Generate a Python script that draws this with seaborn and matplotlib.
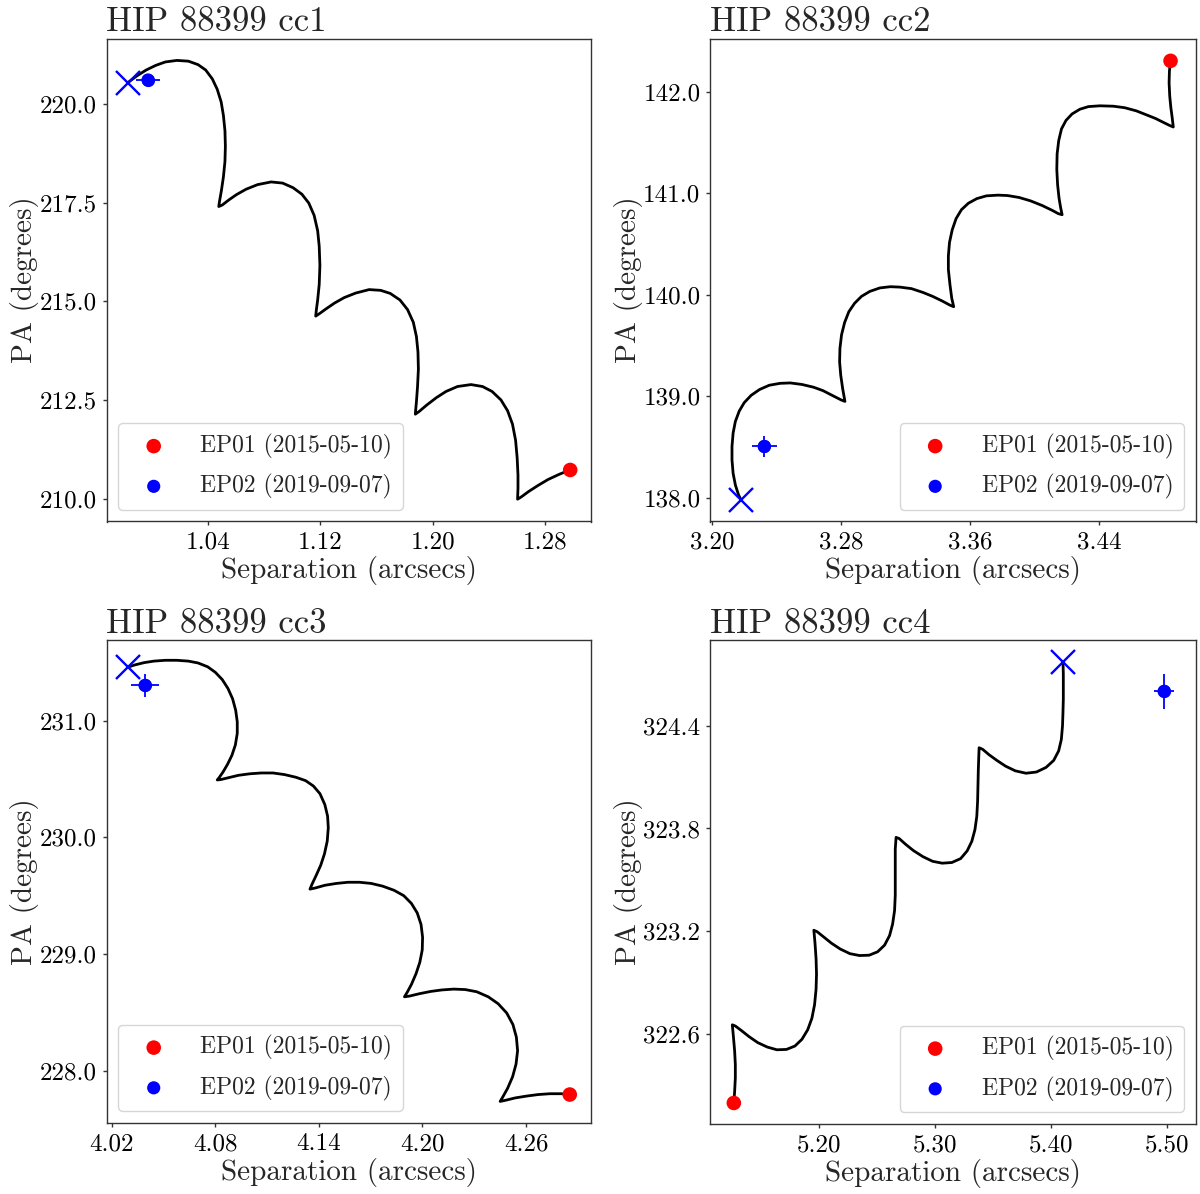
import matplotlib
matplotlib.use("Agg")
import matplotlib.pyplot as plt
import seaborn as sns
import pandas as pd
from matplotlib.ticker import FormatStrFormatter

# ---------------- data ----------------
titles = ["HIP 88399 cc1", "HIP 88399 cc2", "HIP 88399 cc3", "HIP 88399 cc4"]
ep_labels = ["EP01 (2015-05-10)", "EP02 (2019-09-07)"]

sep_cc1 = [0.9832, 0.9894, 0.9963, 1.0031, 1.0099, 1.0181, 1.0263, 1.0332, 1.0386, 1.0433,
           1.0468, 1.0496, 1.0512, 1.0523, 1.0526, 1.0523, 1.0512, 1.0498, 1.0485, 1.0479,
           1.0504, 1.0550, 1.0605, 1.0673, 1.0755, 1.0851, 1.0933, 1.1007, 1.1070, 1.1119,
           1.1157, 1.1182, 1.1193, 1.1198, 1.1193, 1.1182, 1.1173, 1.1168,
           1.1193, 1.1242, 1.1302, 1.1370, 1.1452, 1.1548, 1.1630, 1.1698, 1.1767, 1.1821,
           1.1862, 1.1884, 1.1895, 1.1898, 1.1892, 1.1884, 1.1879, 1.1876,
           1.1903, 1.1958, 1.2026, 1.2094, 1.2176, 1.2272, 1.2354, 1.2422, 1.2485, 1.2532,
           1.2567, 1.2589, 1.2600, 1.2606, 1.2606, 1.2603,
           1.2630, 1.2682, 1.2750, 1.2819, 1.2901, 1.2977]
pa_cc1 = [220.536, 220.701, 220.857, 220.974, 221.061, 221.100, 221.081, 220.993, 220.857, 220.633,
          220.370, 220.049, 219.708, 219.318, 218.929, 218.539, 218.150, 217.809, 217.546, 217.400,
          217.439, 217.566, 217.702, 217.838, 217.955, 218.023, 217.994, 217.877, 217.712, 217.488,
          217.176, 216.787, 216.397, 215.910, 215.424, 215.034, 214.791, 214.625,
          214.684, 214.810, 214.956, 215.093, 215.209, 215.297, 215.278, 215.200, 215.034, 214.791,
          214.469, 214.109, 213.720, 213.281, 212.843, 212.454, 212.259, 212.142,
          212.210, 212.376, 212.561, 212.717, 212.843, 212.892, 212.843, 212.717, 212.503, 212.230,
          211.889, 211.480, 211.042, 210.604, 210.263, 209.990,
          210.049, 210.185, 210.341, 210.487, 210.623, 210.730]

sep_cc2 = [3.4844, 3.4837, 3.4835, 3.4839, 3.4846, 3.4854, 3.4861,
           3.4839, 3.4799, 3.4751, 3.4691, 3.4632, 3.4560, 3.4489, 3.4405, 3.4334, 3.4281,
           3.4233, 3.4195, 3.4167, 3.4150, 3.4140, 3.4138, 3.4143, 3.4152, 3.4162, 3.4171,
           3.4147, 3.4107, 3.4047, 3.3976, 3.3904, 3.3832, 3.3773, 3.3701, 3.3642, 3.3589,
           3.3546, 3.3513, 3.3489, 3.3472, 3.3465, 3.3465, 3.3475, 3.3486, 3.3498,
           3.3475, 3.3427, 3.3367, 3.3308, 3.3236, 3.3164, 3.3105, 3.3040, 3.2978, 3.2926,
           3.2883, 3.2847, 3.2821, 3.2802, 3.2792, 3.2790, 3.2797, 3.2809, 3.2823,
           3.2799, 3.2747, 3.2687, 3.2628, 3.2556, 3.2484, 3.2420, 3.2353, 3.2293, 3.2241,
           3.2198, 3.2167, 3.2143, 3.2129, 3.2122, 3.2122, 3.2129, 3.2143, 3.2162, 3.2177]
pa_cc2 = [142.303, 142.201, 142.087, 141.955, 141.841, 141.746, 141.651,
          141.666, 141.697, 141.735, 141.773, 141.810, 141.841, 141.856, 141.860, 141.852, 141.826,
          141.780, 141.716, 141.632, 141.518, 141.386, 141.234, 141.082, 140.950, 140.855, 140.787,
          140.798, 140.832, 140.878, 140.923, 140.957, 140.976, 140.980, 140.973, 140.946, 140.900,
          140.836, 140.749, 140.639, 140.514, 140.381, 140.248, 140.097, 139.964, 139.881,
          139.896, 139.937, 139.983, 140.021, 140.059, 140.074, 140.078, 140.066, 140.032, 139.983,
          139.915, 139.831, 139.725, 139.604, 139.471, 139.338, 139.206, 139.073, 138.948,
          138.963, 139.005, 139.054, 139.088, 139.115, 139.130, 139.126, 139.107, 139.065, 139.008,
          138.936, 138.853, 138.751, 138.637, 138.504, 138.372, 138.239, 138.125, 138.030, 137.981]

sep_cc3 = [4.0293, 4.0334, 4.0389, 4.0445, 4.0512, 4.0578, 4.0645, 4.0701, 4.0757, 4.0801,
           4.0841, 4.0874, 4.0901, 4.0919, 4.0928, 4.0928, 4.0917, 4.0897, 4.0872, 4.0846,
           4.0823, 4.0812,
           4.0834, 4.0879, 4.0935, 4.1001, 4.1068, 4.1135, 4.1202, 4.1268, 4.1324, 4.1369,
           4.1407, 4.1435, 4.1451, 4.1455, 4.1449, 4.1433, 4.1411, 4.1384, 4.1362, 4.1349,
           4.1380, 4.1435, 4.1502, 4.1569, 4.1636, 4.1703, 4.1769, 4.1836, 4.1892, 4.1936,
           4.1970, 4.1992, 4.2001, 4.1999, 4.1985, 4.1963, 4.1936, 4.1912, 4.1896,
           4.1925, 4.1981, 4.2048, 4.2114, 4.2181, 4.2248, 4.2315, 4.2381, 4.2439, 4.2488,
           4.2524, 4.2544, 4.2551, 4.2542, 4.2522, 4.2493, 4.2466, 4.2450,
           4.2482, 4.2537, 4.2604, 4.2671, 4.2738, 4.2804, 4.2853]
pa_cc3 = [231.458, 231.478, 231.498, 231.511, 231.518, 231.518, 231.511, 231.495, 231.462, 231.415,
          231.353, 231.277, 231.188, 231.089, 230.990, 230.891, 230.792, 230.703, 230.627, 230.561,
          230.512, 230.492,
          230.496, 230.512, 230.532, 230.545, 230.552, 230.552, 230.538, 230.515, 230.486, 230.440,
          230.374, 230.281, 230.182, 230.083, 229.968, 229.859, 229.760, 229.671, 229.602, 229.556,
          229.566, 229.589, 229.605, 229.615, 229.615, 229.605, 229.582, 229.546, 229.500, 229.434,
          229.352, 229.253, 229.144, 229.035, 228.929, 228.831, 228.738, 228.672, 228.633,
          228.639, 228.659, 228.679, 228.692, 228.699, 228.695, 228.676, 228.633, 228.573, 228.494,
          228.395, 228.287, 228.171, 228.056, 227.947, 227.848, 227.776, 227.736,
          227.746, 227.766, 227.782, 227.795, 227.802, 227.802, 227.795]

sep_cc4 = [5.1264, 5.1271, 5.1277, 5.1277, 5.1271, 5.1261, 5.1251,
           5.1277, 5.1330, 5.1397, 5.1470, 5.1552, 5.1635, 5.1718, 5.1791, 5.1851, 5.1901,
           5.1937, 5.1960, 5.1973, 5.1977, 5.1973, 5.1964, 5.1954,
           5.1983, 5.2040, 5.2106, 5.2182, 5.2265, 5.2348, 5.2431, 5.2504, 5.2564, 5.2607,
           5.2633, 5.2650, 5.2656, 5.2656, 5.2656, 5.2656, 5.2663,
           5.2690, 5.2746, 5.2812, 5.2895, 5.2978, 5.3061, 5.3144, 5.3220, 5.3276, 5.3316,
           5.3343, 5.3359, 5.3366, 5.3369, 5.3372, 5.3376, 5.3379,
           5.3409, 5.3465, 5.3532, 5.3608, 5.3691, 5.3783, 5.3873, 5.3956, 5.4022, 5.4065,
           5.4088, 5.4098, 5.4102, 5.4105, 5.4105, 5.4105, 5.4102]
pa_cc4 = [322.195, 322.263, 322.342, 322.420, 322.499, 322.578, 322.652,
          322.645, 322.618, 322.582, 322.548, 322.522, 322.506, 322.508, 322.528, 322.567, 322.623,
          322.690, 322.769, 322.859, 322.949, 323.039, 323.129, 323.205,
          323.196, 323.165, 323.129, 323.095, 323.068, 323.057, 323.059, 323.079, 323.118, 323.174,
          323.241, 323.320, 323.410, 323.500, 323.590, 323.680, 323.748,
          323.741, 323.707, 323.671, 323.635, 323.608, 323.597, 323.601, 323.624, 323.669, 323.725,
          323.793, 323.871, 323.961, 324.051, 324.141, 324.220, 324.272,
          324.263, 324.231, 324.198, 324.164, 324.137, 324.123, 324.130, 324.157, 324.198, 324.254,
          324.321, 324.400, 324.479, 324.557, 324.636, 324.704, 324.776]

# epoch 1 (red) measured positions
ep1_sep = [1.2977, 3.4844, 4.2853, 5.1264]
ep1_pa = [210.730, 142.303, 227.795, 322.195]
# epoch 2 (blue) measured positions with errors
ep2_sep = [0.9976, 3.2322, 4.0394, 5.4974]
ep2_pa = [220.604, 138.504, 231.303, 324.602]
ep2_sep_err = [0.0085, 0.0078, 0.0080, 0.0086]
ep2_pa_err = [0.10, 0.10, 0.096, 0.101]
# predicted background position at epoch 2 (cross)
pred_sep = [0.9832, 3.2177, 4.0293, 5.4102]
pred_pa = [220.536, 137.981, 231.458, 324.776]

xticks = [[1.04, 1.12, 1.20, 1.28], [3.20, 3.28, 3.36, 3.44],
          [4.02, 4.08, 4.14, 4.20, 4.26], [5.20, 5.30, 5.40, 5.50]]
yticks = [[210.0, 212.5, 215.0, 217.5, 220.0], [138.0, 139.0, 140.0, 141.0, 142.0],
          [228.0, 229.0, 230.0, 231.0], [322.6, 323.2, 323.8, 324.4]]
xlims = [(0.9681, 1.3125), (3.1988, 3.5002), (4.0171, 4.2976), (5.1062, 5.5249)]
ylims = [(209.425, 221.655), (137.765, 142.523), (227.551, 231.692), (322.072, 324.902)]
legend_locs = ["lower left", "lower right", "lower left", "lower right"]

tracks = [(sep_cc1, pa_cc1), (sep_cc2, pa_cc2), (sep_cc3, pa_cc3), (sep_cc4, pa_cc4)]

# ---------------- style ----------------
sns.set_style("ticks")
plt.rcParams["font.family"] = ["cmr10", "DejaVu Serif"]
plt.rcParams["mathtext.fontset"] = "cm"
plt.rcParams["axes.unicode_minus"] = False
plt.rcParams["axes.formatter.use_mathtext"] = True

fig = plt.figure(figsize=(12, 11.94), dpi=100)
W, H = 1200, 1194
rects_px = [(106.5, 38.5, 591, 521.5), (710.4, 38.5, 1196, 521.5),
            (106.5, 640, 591, 1123), (710.4, 640, 1196, 1124)]

for i in range(4):
    l, t, r, b = rects_px[i]
    ax = fig.add_axes([l / W, 1 - b / H, (r - l) / W, (b - t) / H])
    df = pd.DataFrame({"sep": tracks[i][0], "pa": tracks[i][1]})
    sns.lineplot(data=df, x="sep", y="pa", sort=False, estimator=None,
                 color="black", linewidth=2.0, ax=ax)
    ax.plot(pred_sep[i], pred_pa[i], marker="x", color="blue", markersize=17,
            markeredgewidth=1.7, linestyle="none", zorder=4)
    ax.errorbar(ep2_sep[i], ep2_pa[i], xerr=ep2_sep_err[i], yerr=ep2_pa_err[i],
                fmt="o", color="blue", markersize=8.5, elinewidth=1.3, zorder=5)
    sns.scatterplot(x=[ep1_sep[i]], y=[ep1_pa[i]], color="red", s=110,
                    edgecolor="none", label=ep_labels[0], ax=ax, zorder=6)
    sns.scatterplot(x=[ep2_sep[i]], y=[ep2_pa[i]], color="blue", s=90,
                    edgecolor="none", label=ep_labels[1], ax=ax, zorder=6)
    ax.set_xlim(*xlims[i])
    ax.set_ylim(*ylims[i])
    ax.set_xticks(xticks[i])
    ax.set_yticks(yticks[i])
    ax.xaxis.set_major_formatter(FormatStrFormatter("%.2f"))
    ax.yaxis.set_major_formatter(FormatStrFormatter("%.1f"))
    ax.tick_params(labelsize=18, length=3.2, width=1, pad=4, colors="#333333",
                   labelcolor="black")
    ax.set_xlabel("Separation (arcsecs)", fontsize=21, labelpad=2)
    ax.set_ylabel("PA (degrees)", fontsize=21, labelpad=0)
    ax.set_title(titles[i], loc="left", fontsize=25, pad=3)
    for sp in ax.spines.values():
        sp.set_color("#333333")
        sp.set_linewidth(1.0)
    ax.legend(loc=legend_locs[i], fontsize=17, handletextpad=0.92, borderpad=0.45,
              labelspacing=0.64, handlelength=2.1, frameon=True)

fig.savefig("out.png", dpi=100)
